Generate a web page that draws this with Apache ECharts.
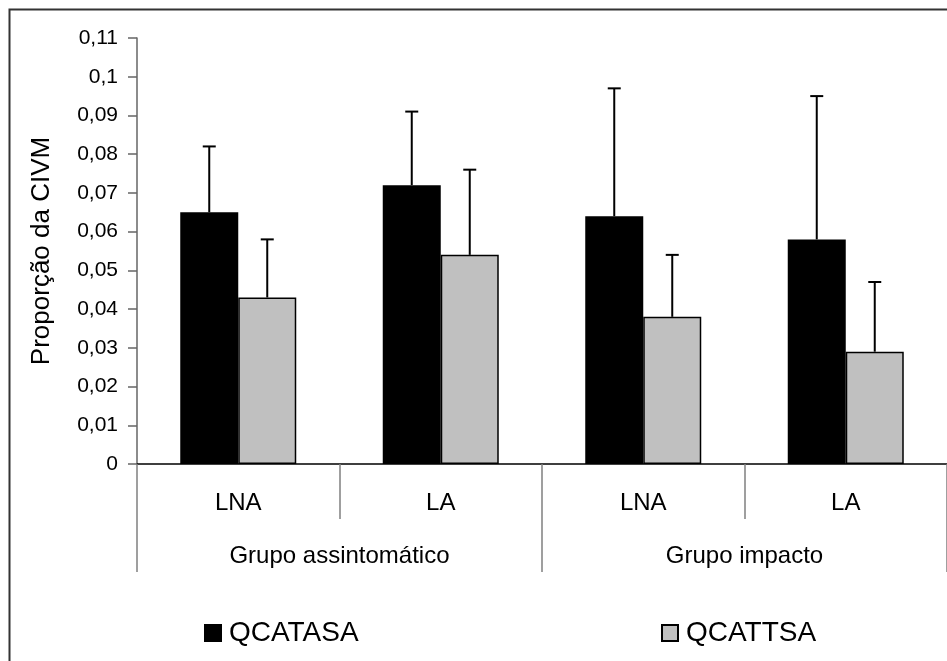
<!DOCTYPE html>
<html>
<head>
<meta charset="utf-8">
<script src="https://cdn.jsdelivr.net/npm/echarts@6/dist/echarts.min.js"></script>
<style>
  html, body { margin: 0; padding: 0; background: #fff; }
  #chart { width: 947px; height: 661px; }
</style>
</head>
<body>
<div id="chart"></div>
<script>
// Sub-categories (first axis level) and their groups (second level)
const categories = ['LNA', 'LA', 'LNA', 'LA'];
const groups = ['Grupo assintomático', 'Grupo impacto'];

// Means per condition
const qcatasa = [0.065, 0.072, 0.064, 0.058];
const qcattsa = [0.043, 0.054, 0.038, 0.029];

// Upper ends of the error bars (mean + SD)
const qcatasaUpper = [0.082, 0.091, 0.097, 0.095];
const qcattsaUpper = [0.058, 0.076, 0.054, 0.047];

const seriesNames = ['QCATASA', 'QCATTSA'];

const FONT = '"Liberation Sans", Arial, sans-serif';
const BAR_W = 58;
const AXIS_GRAY = '#808080';

function fmtTick(v) {
  return String(+v.toFixed(2)).replace('.', ',');
}

// One-sided (upper) error bar drawn from the top of a bar
function errorBarRenderer(side) {
  return function (params, api) {
    const i = api.value(0);
    const top = api.coord([i, api.value(1)]);
    const base = api.coord([i, api.value(2)]);
    const x = top[0] + side * BAR_W / 2;
    const cap = 6.5;
    const style = { stroke: '#000', lineWidth: 2, fill: null };
    return {
      type: 'group',
      children: [
        { type: 'line', shape: { x1: x, y1: base[1], x2: x, y2: top[1] }, style: style },
        { type: 'line', shape: { x1: x - cap, y1: top[1], x2: x + cap, y2: top[1] }, style: style }
      ]
    };
  };
}

const chart = echarts.init(document.getElementById('chart'), null, { renderer: 'canvas' });

chart.setOption({
  backgroundColor: '#fff',
  animation: false,
  textStyle: { fontFamily: FONT },
  graphic: [{
    type: 'rect',
    shape: { x: 9.5, y: 9.5, width: 1000, height: 700 },
    style: { fill: null, stroke: '#333', lineWidth: 2 },
    silent: true,
    z: 100
  }],
  legend: [
    {
      data: [seriesNames[0]], left: 204, top: 619, padding: 0,
      itemWidth: 16, itemHeight: 16, icon: 'rect',
      textStyle: { fontSize: 28, color: '#000', fontFamily: FONT, padding: [0, 0, 0, 3] }
    },
    {
      data: [seriesNames[1]], left: 661, top: 619, padding: 0,
      itemWidth: 16, itemHeight: 16, icon: 'rect',
      textStyle: { fontSize: 28, color: '#000', fontFamily: FONT, padding: [0, 0, 0, 3] }
    }
  ],
  grid: { left: 137, top: 38, right: -6, bottom: 197, containLabel: false },
  xAxis: [
    {
      type: 'category',
      data: categories,
      position: 'bottom',
      axisLine: { show: true, onZero: false, lineStyle: { color: '#000', width: 1.5 } },
      axisTick: { show: true, length: 55, lineStyle: { color: AXIS_GRAY, width: 1.5 } },
      axisLabel: { fontSize: 24, color: '#000', margin: 27, lineHeight: 24, fontFamily: FONT },
      splitLine: { show: false }
    },
    {
      type: 'category',
      data: groups,
      position: 'bottom',
      axisLine: { show: false },
      axisTick: { show: true, length: 108, lineStyle: { color: AXIS_GRAY, width: 1.5 } },
      axisLabel: { fontSize: 24, color: '#000', margin: 80, lineHeight: 24, fontFamily: FONT },
      splitLine: { show: false }
    }
  ],
  yAxis: {
    type: 'value',
    min: 0,
    max: 0.11,
    interval: 0.01,
    name: 'Proporção da CIVM',
    nameLocation: 'middle',
    nameRotate: 90,
    nameGap: 82,
    nameTextStyle: { fontSize: 26, color: '#000', fontFamily: FONT },
    axisLine: { show: true, lineStyle: { color: '#666', width: 1.5 } },
    axisTick: { show: true, length: 9, lineStyle: { color: '#666', width: 1.5 } },
    axisLabel: { fontSize: 21, color: '#000', margin: 19, formatter: fmtTick, fontFamily: FONT },
    splitLine: { show: false }
  },
  series: [
    {
      name: seriesNames[0],
      type: 'bar',
      xAxisIndex: 0,
      data: qcatasa,
      barWidth: BAR_W,
      barGap: '0%',
      itemStyle: { color: '#000', borderColor: '#000', borderWidth: 1.5 },
      z: 2
    },
    {
      name: seriesNames[1],
      type: 'bar',
      xAxisIndex: 0,
      data: qcattsa,
      barWidth: BAR_W,
      barGap: '0%',
      itemStyle: { color: '#c0c0c0', borderColor: '#000', borderWidth: 1.5 },
      z: 2
    },
    {
      type: 'custom',
      xAxisIndex: 0,
      renderItem: errorBarRenderer(-1),
      data: categories.map((c, i) => [i, qcatasaUpper[i], qcatasa[i]]),
      z: 5,
      silent: true
    },
    {
      type: 'custom',
      xAxisIndex: 0,
      renderItem: errorBarRenderer(1),
      data: categories.map((c, i) => [i, qcattsaUpper[i], qcattsa[i]]),
      z: 5,
      silent: true
    }
  ]
});
</script>
</body>
</html>
